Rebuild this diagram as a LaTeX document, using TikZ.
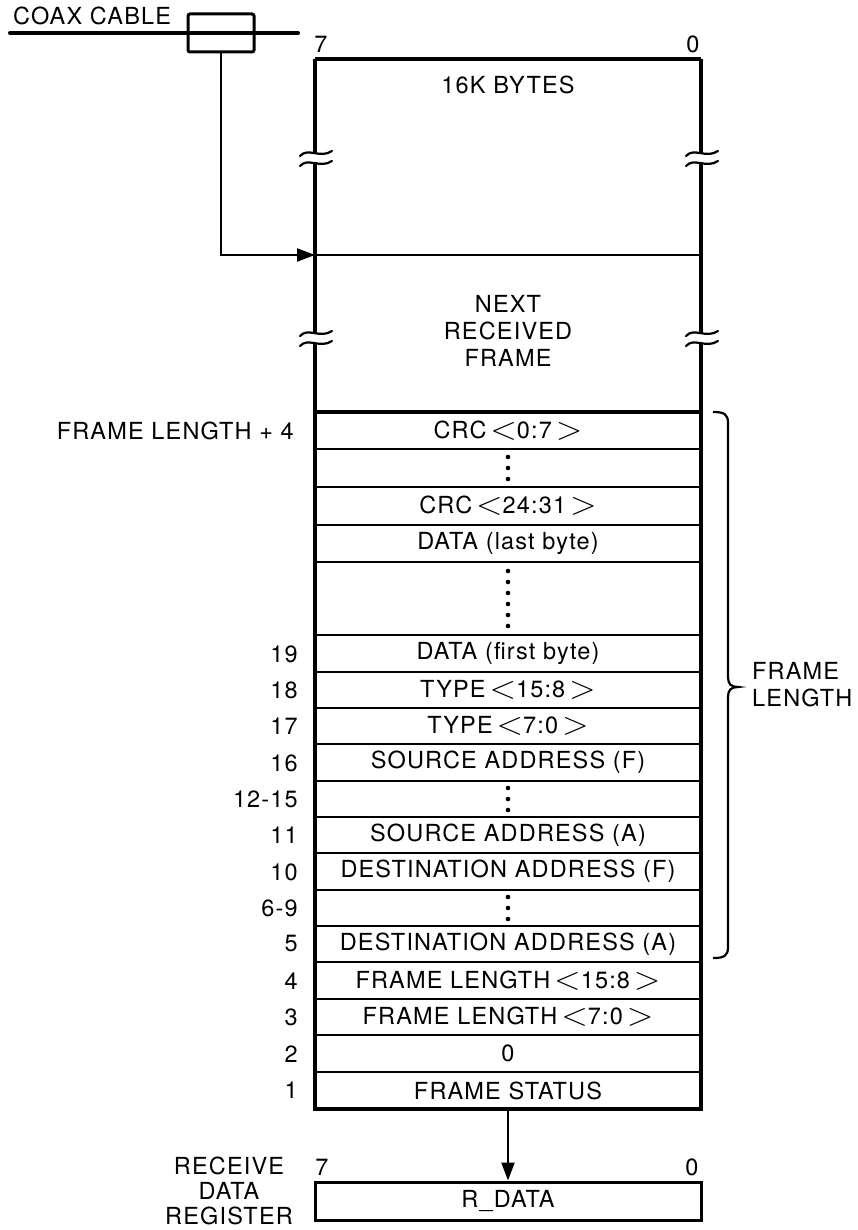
\documentclass[tikz,border=0pt]{standalone}
\usepackage{graphicx}
\usepackage{fontspec}
\setmainfont[LetterSpace=5]{TeX Gyre Heros}
\usetikzlibrary{arrows.meta}
\newcommand{\ltsym}{\,\raisebox{-0.05em}{\scalebox{1.4}[1.3]{$<$}}}
\newcommand{\gtsym}{\,\raisebox{-0.05em}{\scalebox{1.4}[1.3]{$>$}}}
\newcommand{\fs}{\fontsize{23.5}{27}\selectfont}
\tikzset{
  frameline/.style={line width=3.2pt},
  thinline/.style={line width=2.4pt},
  rowbox/.style={draw, line width=2.2pt, minimum width=386pt, inner sep=0pt, outer sep=0pt, font=\fs},
  lbl/.style={anchor=east, inner sep=0pt, font=\fs},
  txt/.style={inner sep=0pt, font=\fs},
  conn/.style={line width=2.2pt, -{Triangle[length=18pt,width=13pt]}},
  brk/.style={line width=2.2pt, line cap=round},
}
\newcommand{\brkmark}[2]{%
  \fill[white] (#1-4,#2-4.5) rectangle (#1+4,#2+4.5);
  \draw[brk] (#1-15,#2-2) .. controls (#1-7,#2-11) and (#1+5,#2+1) .. (#1+17,#2-7);
  \draw[brk] (#1-15,#2+8) .. controls (#1-7,#2-1) and (#1+5,#2+11) .. (#1+17,#2+3);
}
\begin{document}
\begin{tikzpicture}[x=1pt,y=-1pt]
\useasboundingbox (0,0) rectangle (857,1230);

% coax cable
\node[inner sep=0pt, anchor=base west, font=\fs] (coaxlbl) at (13,25) {COAX CABLE};
\draw[line width=4pt, line cap=round] (10,33) -- (298,33);
\node[draw, line width=3pt, rounded corners=2pt, minimum width=66pt, minimum height=38pt, inner sep=0pt] (coaxbox) at (221,33) {};

% bit labels top
\node[txt] (b7top) at (321,44) {7};
\node[txt] (b0top) at (693,44) {0};

% rows
\node[rowbox, minimum height=37pt] (r1) at (508,430.5) {CRC\ltsym0:7\gtsym};
\node[rowbox, minimum height=38pt] (r2) at (508,468) {};
\node[rowbox, minimum height=38pt] (r3) at (508,506) {CRC\ltsym24:31\gtsym};
\node[rowbox, minimum height=37pt] (r4) at (508,543.5) {DATA (last byte)};
\node[rowbox, minimum height=73pt] (r5) at (508,598.5) {};
\node[rowbox, minimum height=37pt] (r6) at (508,653.5) {DATA (first byte)};
\node[rowbox, minimum height=36pt] (r7) at (508,690) {TYPE\ltsym15:8\gtsym};
\node[rowbox, minimum height=36pt] (r8) at (508,726) {TYPE\ltsym7:0\gtsym};
\node[rowbox, minimum height=37pt] (r9) at (508,762.5) {SOURCE ADDRESS (F)};
\node[rowbox, minimum height=36pt] (r10) at (508,799) {};
\node[rowbox, minimum height=36pt] (r11) at (508,835) {SOURCE ADDRESS (A)};
\node[rowbox, minimum height=37pt] (r12) at (508,871.5) {DESTINATION ADDRESS (F)};
\node[rowbox, minimum height=36pt] (r13) at (508,908) {};
\node[rowbox, minimum height=36pt] (r14) at (508,944) {DESTINATION ADDRESS (A)};
\node[rowbox, minimum height=37pt] (r15) at (508,980.5) {FRAME LENGTH\ltsym15:8\gtsym};
\node[rowbox, minimum height=36pt] (r16) at (508,1017) {FRAME LENGTH\ltsym7:0\gtsym};
\node[rowbox, minimum height=37pt] (r17) at (508,1053.5) {0};
\node[rowbox, minimum height=37pt] (r18) at (508,1090.5) {FRAME STATUS};

% dots
\foreach \r in {r2,r10,r13} {
  \foreach \d in {-11,0,11} \fill ([yshift=\d pt]\r.center) circle (2.3pt);
}
\foreach \d in {-27.5,-16.5,-5.5,5.5,16.5,27.5} \fill ([yshift=\d pt]r5.center) circle (2.3pt);

% frame
\draw[frameline] (315,59) -- (701,59);
\draw[frameline] (315,59) -- (315,1109) -- (701,1109) -- (701,59);
\draw[frameline] (315,412) -- (701,412);
\brkmark{315}{158}
\brkmark{701}{158}
\brkmark{315}{338}
\brkmark{701}{338}

% top region text
\node[txt] (t16k) at (508,85) {16K BYTES};
\node[txt, align=center] (tnext) at (508,331) {NEXT\\RECEIVED\\FRAME};

% coax arrow
\coordinate (entry) at (315,255);
\draw[thinline] (entry) -- (701,255);
\draw[conn] (coaxbox.south) |- (entry);

% left labels
\node[lbl] (lfl4) at (294,431) {FRAME LENGTH + 4};
\node[lbl] (l19) at (298,654) {19};
\node[lbl] (l18) at (298,690) {18};
\node[lbl] (l17) at (298,726) {17};
\node[lbl] (l16) at (298,763) {16};
\node[lbl] (l1215) at (298,799) {12-15};
\node[lbl] (l11) at (298,835) {11};
\node[lbl] (l10) at (298,872) {10};
\node[lbl] (l69) at (298,908) {6-9};
\node[lbl] (l5) at (298,944) {5};
\node[lbl] (l4) at (298,981) {4};
\node[lbl] (l3) at (298,1017) {3};
\node[lbl] (l2) at (298,1054) {2};
\node[lbl] (l1) at (298,1090) {1};

% brace
\draw[line width=2.2pt] (713,412) .. controls (724,412) and (728,414) .. (728,423)
  -- (728,677) .. controls (728,684) and (731,687) .. (738,687)
  .. controls (731,687) and (728,690) .. (728,697)
  -- (728,947) .. controls (728,956) and (724,958) .. (713,958);
\node[inner sep=0pt, anchor=west, align=left, font=\fs] (flen) at (752,685) {FRAME\\LENGTH};

% receive data register
\node[txt] (b7bot) at (322,1167) {7};
\node[txt] (b0bot) at (692,1167) {0};
\node[draw, line width=3pt, minimum width=386pt, minimum height=38pt, inner sep=0pt, font=\fs] (rdata) at (508,1201) {R\_DATA};
\node[txt, align=center, font=\fontsize{23.5}{25}\selectfont] (rdr) at (229,1191) {RECEIVE\\DATA\\REGISTER};
\draw[conn] (r18.south) -- (rdata.north);
\end{tikzpicture}
\end{document}
